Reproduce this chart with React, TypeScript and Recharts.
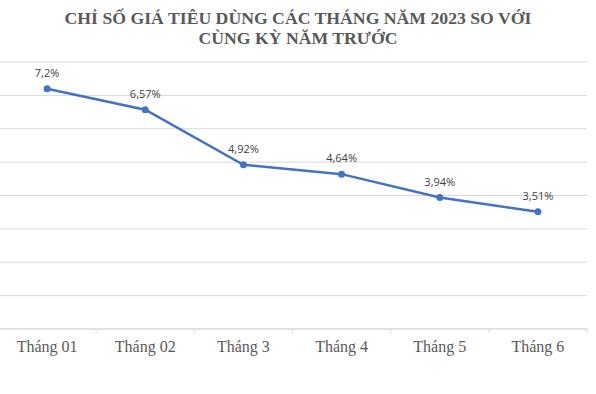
import { LineChart, Line, XAxis, YAxis, CartesianGrid, LabelList } from "recharts";

const months = ["Tháng 01", "Tháng 02", "Tháng 3", "Tháng 4", "Tháng 5", "Tháng 6"];
const cpi = [7.2, 6.57, 4.92, 4.64, 3.94, 3.51];
const yTicks = [0, 1, 2, 3, 4, 5, 6, 7, 8];

const data = months.map((m, i) => ({ month: m, cpi: cpi[i] }));

const CHART_W = 598;
const CHART_H = 394;
const MARGIN = { top: 62, right: 9, bottom: 5, left: 0 };
const BAND = (CHART_W - MARGIN.left - MARGIN.right) / months.length;

// Excel-style ticks: marks sit between categories, label in the middle
const MonthTick = ({ x, y, payload, index }: any) => (
  <g>
    <line x1={x - BAND / 2} x2={x - BAND / 2} y1={y} y2={y + 4} stroke="#d9d9d9" />
    {index === months.length - 1 && (
      <line x1={x + BAND / 2} x2={x + BAND / 2} y1={y} y2={y + 4} stroke="#d9d9d9" />
    )}
    <text
      x={x}
      y={y + 23}
      textAnchor="middle"
      fill="#595959"
      fontSize={16}
      fontFamily="'Liberation Serif', 'Times New Roman', serif"
    >
      {payload.value}
    </text>
  </g>
);

const fmt = (v: any) => `${String(v).replace(".", ",")}%`;

export default function App() {
  return (
    <div style={{ position: "absolute", left: 0, top: 0, width: 596, height: 394, background: "#fff", overflow: "hidden" }}>
      <div
        style={{
          position: "absolute",
          top: 8,
          left: 0,
          width: 596,
          textAlign: "center",
          fontFamily: "'Liberation Serif', 'Times New Roman', serif",
          fontWeight: "bold",
          fontSize: 17.7,
          lineHeight: "20px",
          color: "#595959",
        }}
      >
        CHỈ SỐ GIÁ TIÊU DÙNG CÁC THÁNG NĂM 2023 SO VỚI
        <br />
        CÙNG KỲ NĂM TRƯỚC
      </div>
      <div style={{ position: "absolute", left: -2, top: 0 }}>
        <LineChart width={CHART_W} height={CHART_H} data={data} margin={MARGIN}>
          <CartesianGrid vertical={false} stroke="#d9d9d9" />
          <XAxis
            dataKey="month"
            height={60}
            padding={{ left: BAND / 2, right: BAND / 2 }}
            tickLine={false}
            tickSize={0}
            tickMargin={0}
            axisLine={{ stroke: "#d9d9d9" }}
            tick={<MonthTick />}
            interval={0}
          />
          <YAxis hide domain={[0, 8]} ticks={yTicks} />
          <Line
            type="linear"
            dataKey="cpi"
            stroke="#4472c4"
            strokeWidth={2.5}
            dot={{ r: 3.5, fill: "#4472c4", stroke: "#4472c4", strokeWidth: 0 }}
            isAnimationActive={false}
          >
            <LabelList
              dataKey="cpi"
              position="top"
              offset={12}
              formatter={fmt}
              fill="#404040"
              fontSize={11}
              fontFamily="'Open Sans', sans-serif"
            />
          </Line>
        </LineChart>
      </div>
    </div>
  );
}
